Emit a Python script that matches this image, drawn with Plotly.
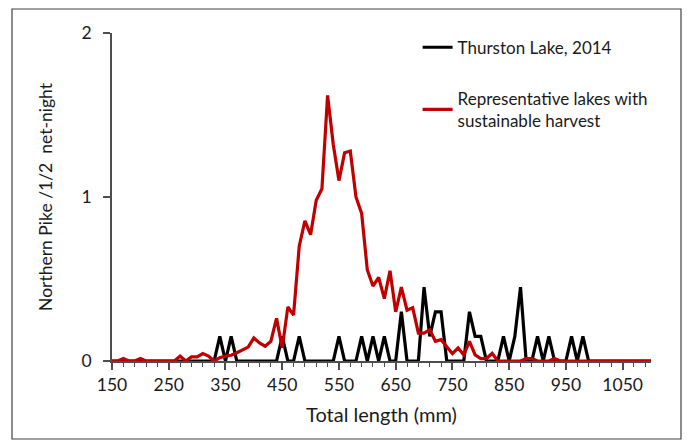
import plotly.graph_objects as go

# Total length categories (mm)
lengths = list(range(150, 1101, 10))

# Northern Pike per 1/2 net-night
thurston_2014 = [
    0, 0, 0, 0, 0, 0, 0, 0, 0, 0,            # 150-240
    0, 0, 0, 0, 0, 0, 0, 0, 0, 0.15,         # 250-340
    0, 0.15, 0, 0, 0, 0, 0, 0, 0, 0,         # 350-440
    0.15, 0, 0, 0.15, 0, 0, 0, 0, 0, 0,      # 450-540
    0.15, 0, 0, 0, 0.15, 0, 0.15, 0, 0.15, 0,  # 550-640
    0, 0.3, 0, 0, 0, 0.45, 0.15, 0.3, 0.3, 0,  # 650-740
    0, 0, 0, 0.3, 0.15, 0.15, 0, 0, 0, 0.15,   # 750-840
    0, 0.15, 0.45, 0, 0, 0.15, 0, 0.15, 0, 0,  # 850-940
    0, 0.15, 0, 0.15, 0, 0, 0, 0, 0, 0,        # 950-1040
    0, 0, 0, 0, 0, 0,                          # 1050-1100
]

representative = [
    0, 0, 0.015, 0, 0, 0.015, 0, 0, 0, 0,                      # 150-240
    0, 0, 0.03, 0, 0.025, 0.025, 0.045, 0.03, 0, 0.02,         # 250-340
    0.03, 0.035, 0.05, 0.07, 0.085, 0.14, 0.11, 0.09, 0.12, 0.26,  # 350-440
    0.08, 0.33, 0.28, 0.70, 0.855, 0.77, 0.98, 1.05, 1.62, 1.32,   # 450-540
    1.10, 1.27, 1.28, 1.00, 0.90, 0.555, 0.457, 0.51, 0.38, 0.55,  # 550-640
    0.30, 0.45, 0.31, 0.325, 0.17, 0.17, 0.19, 0.12, 0.13, 0.087,  # 650-740
    0.045, 0.08, 0.037, 0.12, 0.037, 0.015, 0.015, 0.047, 0, 0,    # 750-840
    0, 0, 0, 0.015, 0.015, 0, 0, 0, 0.015, 0,                      # 850-940
    0, 0, 0, 0, 0, 0, 0, 0, 0, 0,                                  # 950-1040
    0, 0, 0, 0, 0, 0,                                              # 1050-1100
]

series_names = ["Thurston Lake, 2014", "Representative lakes with<br>sustainable harvest"]
x_tick_vals = list(range(150, 1051, 100))
y_tick_vals = [0, 1, 2]

FONT = "Lato"
TXT = "#1a1a1a"
AX = "#4d4d4d"

fig = go.Figure()
fig.add_trace(go.Scatter(
    x=lengths, y=thurston_2014, mode="lines", name=series_names[0],
    line=dict(color="#000000", width=3.2), legendgroup="a",
))
fig.add_trace(go.Scatter(
    x=lengths, y=representative, mode="lines", name=series_names[1],
    line=dict(color="#c00000", width=3.2), legendgroup="b",
))

fig.update_layout(
    width=688, height=442,
    margin=dict(l=112, r=37, t=33, b=81),
    paper_bgcolor="white", plot_bgcolor="white",
    font=dict(family=FONT, size=17, color=TXT),
    showlegend=True,
    legend=dict(
        x=0.567, y=1.01, xanchor="left", yanchor="top",
        bgcolor="rgba(0,0,0,0)", font=dict(family=FONT, size=17, color=TXT),
        tracegroupgap=26, itemwidth=30,
    ),
    xaxis=dict(
        range=[150, 1100], tickmode="array", tickvals=x_tick_vals,
        ticktext=[str(v) for v in x_tick_vals],
        showline=True, linecolor=AX, linewidth=1.5, showgrid=False, zeroline=False,
        ticks="outside", ticklen=7, tickcolor=AX, tickwidth=1.5,
        minor=dict(tickmode="linear", tick0=150, dtick=20, ticks="outside",
                   ticklen=4, tickcolor=AX, tickwidth=1, showgrid=False),
        tickfont=dict(family=FONT, size=17.5, color=TXT),
        title=dict(text="Total length (mm)", font=dict(family=FONT, size=20, color=TXT), standoff=14),
        fixedrange=True,
    ),
    yaxis=dict(
        range=[0, 2], tickmode="array", tickvals=y_tick_vals,
        ticktext=[str(v) for v in y_tick_vals],
        showline=True, linecolor=AX, linewidth=1.5, showgrid=False, zeroline=False,
        ticks="outside", ticklen=7, tickcolor=AX, tickwidth=1.5,
        tickfont=dict(family=FONT, size=17.5, color=TXT),
        ticklabelstandoff=8,
        title=dict(text="Northern Pike /1/2  net-night", font=dict(family=FONT, size=17.5, color=TXT), standoff=24),
        fixedrange=True,
    ),
    shapes=[dict(
        type="rect", xref="paper", yref="paper",
        x0=(12 - 112) / 539, x1=(681 - 112) / 539,
        y0=(361 - 439) / 328, y1=(361 - 9) / 328,
        line=dict(color="#404040", width=1.2), fillcolor="rgba(0,0,0,0)", layer="below",
    )],
)

fig.write_html(
    "out.html",
    config={"displayModeBar": False},
    post_script="document.body.style.margin='0';document.body.style.overflow='hidden';",
)
